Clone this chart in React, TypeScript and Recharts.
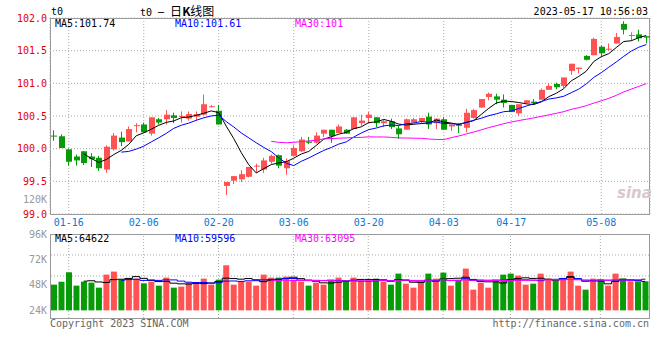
import { ComposedChart, Bar, Line, XAxis, YAxis, CartesianGrid, Cell, ReferenceLine } from "recharts"

const dates = [
  "01-12", "01-13", "01-16", "01-17", "01-18", "01-19", "01-20", "01-30", "01-31", "02-01",
  "02-02", "02-03", "02-06", "02-07", "02-08", "02-09", "02-10", "02-13", "02-14", "02-15",
  "02-16", "02-17", "02-20", "02-21", "02-22", "02-23", "02-24", "02-27", "02-28", "03-01",
  "03-02", "03-03", "03-06", "03-07", "03-08", "03-09", "03-10", "03-13", "03-14", "03-15",
  "03-16", "03-17", "03-20", "03-21", "03-22", "03-23", "03-24", "03-27", "03-28", "03-29",
  "03-30", "03-31", "04-03", "04-04", "04-06", "04-07", "04-10", "04-11", "04-12", "04-13",
  "04-14", "04-17", "04-18", "04-19", "04-20", "04-21", "04-24", "04-25", "04-26", "04-27",
  "04-28", "05-04", "05-05", "05-08", "05-09", "05-10", "05-11", "05-12", "05-15", "05-16",
]

const opens = [
  100.20, 100.19, 99.99, 99.88, 99.96, 99.88, 99.86, 99.68, 99.99, 100.17,
  100.11, 100.35, 100.37, 100.23, 100.45, 100.45, 100.51, 100.49, 100.46, 100.49,
  100.52, 100.64, 100.58, 99.43, 99.51, 99.53, 99.57, 99.73, 99.68, 99.80,
  99.90, 99.70, 99.89, 99.96, 100.11, 100.09, 100.23, 100.29, 100.24, 100.29,
  100.30, 100.39, 100.47, 100.48, 100.39, 100.42, 100.31, 100.29, 100.40, 100.42,
  100.49, 100.39, 100.45, 100.34, 100.37, 100.32, 100.47, 100.63, 100.79, 100.80,
  100.75, 100.67, 100.54, 100.70, 100.72, 100.75, 100.90, 100.99, 100.96, 101.19,
  101.22, 101.42, 101.43, 101.56, 101.52, 101.61, 101.91, 101.73, 101.75, 101.72,
]
const highs = [
  100.28, 100.22, 100.00, 99.91, 99.96, 99.93, 99.89, 100.05, 100.24, 100.26,
  100.34, 100.39, 100.40, 100.48, 100.47, 100.59, 100.55, 100.57, 100.57, 100.57,
  100.83, 100.67, 100.67, 99.49, 99.58, 99.67, 99.72, 99.77, 99.86, 99.91,
  99.91, 99.85, 100.05, 100.18, 100.18, 100.25, 100.29, 100.29, 100.37, 100.30,
  100.48, 100.52, 100.56, 100.48, 100.44, 100.46, 100.35, 100.46, 100.47, 100.47,
  100.55, 100.46, 100.48, 100.37, 100.39, 100.61, 100.61, 100.76, 100.86, 100.84,
  100.83, 100.67, 100.68, 100.74, 100.76, 100.92, 101.00, 101.01, 101.09, 101.30,
  101.24, 101.43, 101.70, 101.58, 101.61, 101.77, 101.95, 101.78, 101.82, 101.72,
]
const lows = [
  100.12, 100.01, 99.74, 99.74, 99.75, 99.72, 99.66, 99.63, 99.97, 100.04,
  100.11, 100.25, 100.25, 100.20, 100.37, 100.37, 100.39, 100.40, 100.43, 100.43,
  100.51, 100.63, 100.37, 99.29, 99.46, 99.49, 99.56, 99.63, 99.63, 99.77,
  99.70, 99.60, 99.88, 99.95, 100.07, 100.08, 100.18, 100.09, 100.24, 100.23,
  100.30, 100.35, 100.39, 100.33, 100.33, 100.30, 100.15, 100.29, 100.40, 100.39,
  100.30, 100.30, 100.29, 100.27, 100.24, 100.25, 100.46, 100.62, 100.74, 100.68,
  100.63, 100.56, 100.50, 100.69, 100.67, 100.75, 100.90, 100.91, 100.93, 101.13,
  101.15, 101.35, 101.43, 101.41, 101.50, 101.61, 101.75, 101.65, 101.64, 101.61,
]
const closes = [
  100.19, 100.01, 99.80, 99.82, 99.78, 99.84, 99.70, 100.03, 100.20, 100.10,
  100.30, 100.36, 100.25, 100.48, 100.40, 100.52, 100.47, 100.50, 100.53, 100.53,
  100.68, 100.65, 100.37, 99.49, 99.58, 99.61, 99.72, 99.74, 99.82, 99.89,
  99.74, 99.81, 100.01, 100.14, 100.09, 100.20, 100.29, 100.19, 100.34, 100.23,
  100.48, 100.43, 100.52, 100.39, 100.42, 100.33, 100.22, 100.45, 100.45, 100.47,
  100.37, 100.46, 100.29, 100.37, 100.35, 100.55, 100.59, 100.76, 100.84, 100.75,
  100.70, 100.56, 100.68, 100.74, 100.70, 100.90, 100.96, 100.94, 101.09, 101.30,
  101.24, 101.36, 101.68, 101.46, 101.53, 101.71, 101.82, 101.74, 101.69, 101.70,
]
const volumes = [
  53900, 60200, 79800, 51800, 60200, 58100, 47600, 74900, 81200, 64400,
  66500, 66500, 56700, 60200, 51800, 68600, 47600, 49700, 58100, 58100,
  66500, 53900, 64400, 94500, 53900, 60200, 60200, 51800, 74900, 68600,
  68600, 70700, 64400, 60200, 51800, 58100, 53900, 62300, 68600, 62300,
  68600, 62300, 62300, 66500, 60200, 53900, 77000, 56000, 47600, 58100,
  77000, 66500, 79100, 51800, 62300, 87500, 43400, 58100, 47600, 62300,
  74900, 77000, 72800, 53900, 56000, 77000, 66500, 62300, 66500, 81200,
  51800, 43400, 66500, 64400, 51800, 77000, 66500, 60900, 60900, 60900,
]

const dateTicks = ["01-16", "02-06", "02-20", "03-06", "03-20", "04-03", "04-17", "05-08"]
const priceTicks = [99, 99.5, 100, 100.5, 101, 101.5, 102]
const volLabelTicks = [24000, 48000, 72000, 96000]
const volGridTicks = [28000, 72000, 116000]

const priceLegend = ["MA5:101.74", "MA10:101.61", "MA30:101"]
const volLegend = ["MA5:64622", "MA10:59596", "MA30:63095"]

const RED = "#ff5353"
const GREEN = "#079b07"
const MA_COLORS = ["#000000", "#0000ff", "#ff00ff"]
const GRID = "#aaa"
const MONO = '"DejaVu Sans Mono", "Liberation Mono", monospace'
const CJK = '"Noto Sans CJK SC", sans-serif'

// moving average over the window, null until enough points
function movingAvg(values: number[], n: number) {
  return values.map((_, i) => {
    if (i < n - 1) return null
    let s = 0
    for (let k = i - n + 1; k <= i; k++) s += values[k]
    return s / n
  })
}

const ma5 = movingAvg(closes, 5)
const ma10 = movingAvg(closes, 10)
const ma30 = movingAvg(closes, 30)
const vma5 = movingAvg(volumes, 5)
const vma10 = movingAvg(volumes, 10)
const vma30 = movingAvg(volumes, 30)

const rows = dates.map((date, i) => ({
  date,
  open: opens[i],
  high: highs[i],
  low: lows[i],
  close: closes[i],
  range: [lows[i], highs[i]],
  vol: volumes[i],
  ma5: ma5[i],
  ma10: ma10[i],
  ma30: ma30[i],
  vma5: vma5[i],
  vma10: vma10[i],
  vma30: vma30[i],
}))

function Candle(props: any) {
  const { x, y, width, height, payload } = props
  const { open, close, high, low } = payload
  const color = close >= open ? RED : GREEN
  const top = Math.min(y, y + height)
  const h = Math.abs(height)
  const span = high - low
  const toY = (v: number) => (span > 0 ? top + ((high - v) / span) * h : top)
  const bodyTop = toY(Math.max(open, close))
  const bodyBot = toY(Math.min(open, close))
  const left = Math.round(x + width / 2) - 3
  return (
    <g>
      <line x1={left + 2.5} x2={left + 2.5} y1={top} y2={top + h} stroke={color} strokeWidth={1} />
      <rect x={left} y={bodyTop} width={6} height={Math.max(1, bodyBot - bodyTop)} fill={color} />
    </g>
  )
}

function Txt({ x, y, color = "#000", right, children, font = MONO, size = 10 }: any) {
  const pos: any = right ? { right: 660 - x } : { left: x }
  return (
    <div style={{ position: "absolute", top: y - 6, ...pos, fontFamily: font, fontSize: size, lineHeight: "12px", color, whiteSpace: "nowrap" }}>
      {children}
    </div>
  )
}

export default function App() {
  return (
    <div style={{ position: "absolute", left: 0, top: 0, width: 660, height: 360, background: "#fff", overflow: "hidden" }}>
      <div style={{ position: "absolute", left: 50, top: 18, width: 600, height: 197, border: "1px solid #999", boxSizing: "border-box" }} />
      <div style={{ position: "absolute", left: 50, top: 234, width: 600, height: 85, border: "1px solid #999", boxSizing: "border-box" }} />

      <Txt x={51} y={12}>t0</Txt>
      <div style={{ position: "absolute", left: 140, top: 4, fontSize: 10, lineHeight: "14px", whiteSpace: "nowrap" }}>
        <span style={{ fontFamily: MONO }}>t0 ─ </span>
        <span style={{ fontFamily: CJK, fontSize: 12 }}>日<b>K</b>线图</span>
      </div>
      <Txt x={648} y={12} right>2023-05-17 10:56:03</Txt>

      <div style={{ position: "absolute", left: 617, top: 184, fontFamily: "DejaVu Sans", fontStyle: "italic", fontWeight: "bold", fontSize: 15, color: "#d9c8c8" }}>sina</div>

      <ComposedChart width={660} height={232} data={rows} margin={{ top: 18, right: 10, bottom: 0, left: 0 }} style={{ position: "absolute", left: 0, top: 0 }}>
        <CartesianGrid stroke={GRID} strokeDasharray="1 2" />
        <XAxis dataKey="date" ticks={dateTicks} interval={0} height={18} axisLine={false} tickLine={false} tickSize={0} tickMargin={5}
          tick={{ fill: "#0a78d7", fontSize: 10, fontFamily: MONO }} />
        <YAxis domain={[99, 102]} ticks={priceTicks} allowDataOverflow width={50} axisLine={false} tickLine={false} tickSize={0} tickMargin={3}
          tickFormatter={(v: number) => v.toFixed(1)} tick={{ fill: "#e60000", fontSize: 10, fontFamily: MONO }} />
        <Bar dataKey="range" barSize={6} shape={Candle} isAnimationActive={false} />
        <Line dataKey="ma5" stroke={MA_COLORS[0]} strokeWidth={1} dot={false} isAnimationActive={false} />
        <Line dataKey="ma10" stroke={MA_COLORS[1]} strokeWidth={1} dot={false} isAnimationActive={false} />
        <Line dataKey="ma30" stroke={MA_COLORS[2]} strokeWidth={1} dot={false} isAnimationActive={false} />
      </ComposedChart>

      <Txt x={47} y={200} right color="#999">120K</Txt>

      <ComposedChart width={660} height={110} data={rows} margin={{ top: 8, right: 10, bottom: 17, left: 0 }} style={{ position: "absolute", left: 0, top: 226 }}>
        <XAxis dataKey="date" height={1} tick={false} axisLine={false} tickLine={false} />
        <YAxis orientation="right" domain={[-16000, 160000]} allowDataOverflow width={1} tick={false} axisLine={false} tickLine={false} />
        <YAxis yAxisId="lab" orientation="left" domain={[16700, 96000]} ticks={volLabelTicks} allowDataOverflow width={50} axisLine={false} tickLine={false} tickSize={0} tickMargin={3}
          tickFormatter={(v: number) => v / 1000 + "K"} tick={{ fill: "#999", fontSize: 10, fontFamily: MONO }} />
        {dateTicks.map(d => <ReferenceLine key={d} x={d} stroke={GRID} strokeDasharray="1 2" zIndex={0} />)}
        {volGridTicks.map(v => <ReferenceLine key={v} y={v} stroke={GRID} strokeDasharray="1 2" zIndex={0} />)}
        <Bar dataKey="vol" barSize={6} isAnimationActive={false}>
          {rows.map((r, i) => <Cell key={i} fill={r.close >= r.open ? RED : GREEN} />)}
        </Bar>
        <Line type="step" dataKey="vma5" stroke={MA_COLORS[0]} strokeWidth={1} dot={false} isAnimationActive={false} />
        <Line type="step" dataKey="vma10" stroke={MA_COLORS[1]} strokeWidth={1} dot={false} isAnimationActive={false} />
        <Line type="step" dataKey="vma30" stroke={MA_COLORS[2]} strokeWidth={1} dot={false} isAnimationActive={false} />
      </ComposedChart>

      {priceLegend.map((t, i) => <Txt key={t} x={55 + i * 120} y={24} color={MA_COLORS[i]}>{t}</Txt>)}
      {volLegend.map((t, i) => <Txt key={t} x={55 + i * 120} y={239} color={MA_COLORS[i]}>{t}</Txt>)}

      <Txt x={50} y={324} color="#666">Copyright 2023 SINA.COM</Txt>
      <Txt x={649} y={324} right color="#666">http://finance.sina.com.cn</Txt>
    </div>
  )
}
